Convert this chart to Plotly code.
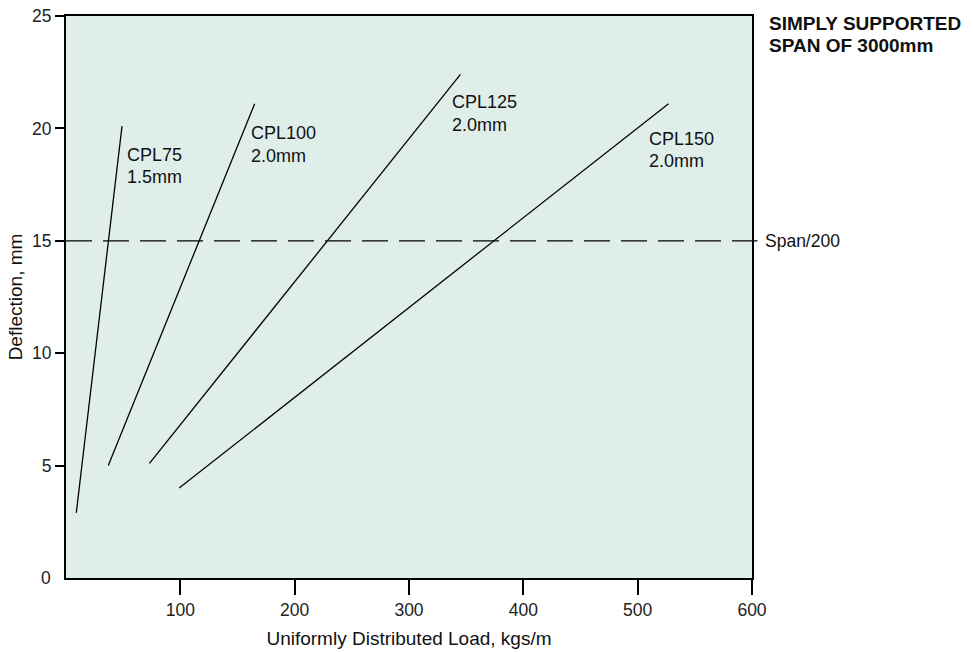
import plotly.graph_objects as go

# deflection lines (load kgs/m, deflection mm)
series_names = ['CPL75', 'CPL100', 'CPL125', 'CPL150']
series_gauge = ['1.5mm', '2.0mm', '2.0mm', '2.0mm']
cpl75_x = [9, 49]
cpl75_y = [2.9, 20.1]
cpl100_x = [37, 165]
cpl100_y = [5.0, 21.1]
cpl125_x = [73, 345]
cpl125_y = [5.1, 22.4]
cpl150_x = [99, 527]
cpl150_y = [4.0, 21.1]
span_limit = 15

x_ticks = [100, 200, 300, 400, 500, 600]
y_ticks = [5, 10, 15, 20, 25]

FONT = 'Liberation Sans, Arial, sans-serif'
BG = '#e0eeea'

fig = go.Figure()
for xs, ys in [(cpl75_x, cpl75_y), (cpl100_x, cpl100_y),
               (cpl125_x, cpl125_y), (cpl150_x, cpl150_y)]:
    fig.add_trace(go.Scatter(x=xs, y=ys, mode='lines',
                             line=dict(color='black', width=1.3),
                             showlegend=False, hoverinfo='skip'))

# span/200 limit
fig.add_shape(type='line', xref='paper', yref='y', x0=0, x1=1.008,
              y0=span_limit, y1=span_limit,
              line=dict(color='black', width=1.2, dash='26px,11px'))
fig.add_annotation(xref='paper', yref='y', x=1.016, y=span_limit,
                   text='Span/200', showarrow=False, xanchor='left',
                   yanchor='middle', font=dict(size=17.5))

# "0" label on y axis without a tick mark
fig.add_annotation(xref='paper', yref='y', x=-0.019, y=0, text='0',
                   showarrow=False, xanchor='right', yanchor='middle',
                   font=dict(size=17.5, color='#222'))

# series labels (left edge x, first line y, second line y)
label_pos = [(52.0, 18.82, 17.84), (160.0, 19.79, 18.77),
             (336.0, 21.17, 20.15), (508.0, 19.53, 18.55)]
for name, gauge, (lx, ly1, ly2) in zip(series_names, series_gauge, label_pos):
    fig.add_annotation(x=lx, y=ly1, text=name, showarrow=False,
                       xanchor='left', yanchor='middle', font=dict(size=18))
    fig.add_annotation(x=lx, y=ly2, text=gauge, showarrow=False,
                       xanchor='left', yanchor='middle', font=dict(size=18))

fig.add_annotation(xref='paper', yref='paper', x=1.022, y=0.986,
                   text='<b>SIMPLY SUPPORTED</b>', showarrow=False,
                   xanchor='left', yanchor='middle', font=dict(size=19))
fig.add_annotation(xref='paper', yref='paper', x=1.022, y=0.947,
                   text='<b>SPAN OF 3000mm</b>', showarrow=False,
                   xanchor='left', yanchor='middle', font=dict(size=19))

axis_common = dict(showgrid=False, zeroline=False, showline=True, mirror=True,
                   linecolor='black', linewidth=2, ticks='outside',
                   tickwidth=2, tickcolor='black', automargin=False,
                   tickfont=dict(size=17.5, color='#222'))

fig.update_layout(
    width=973, height=652,
    margin=dict(l=66, r=221, t=16, b=74),
    paper_bgcolor='white', plot_bgcolor=BG,
    font=dict(family=FONT, color='#111', size=17),
    xaxis=dict(range=[0, 600], tickvals=x_ticks, ticklen=15,
               title=dict(text='Uniformly Distributed Load, kgs/m',
                          font=dict(size=19), standoff=13),
               **axis_common),
    yaxis=dict(range=[0, 25], tickvals=y_ticks, ticklen=9,
               title=dict(text='Deflection, mm', font=dict(size=19), standoff=4),
               **axis_common),
)

# drop the browser's default 8px body margin so the figure fills the window
fig.write_html('out.html', config={'displayModeBar': False},
               post_script="document.body.style.margin='0px';")
